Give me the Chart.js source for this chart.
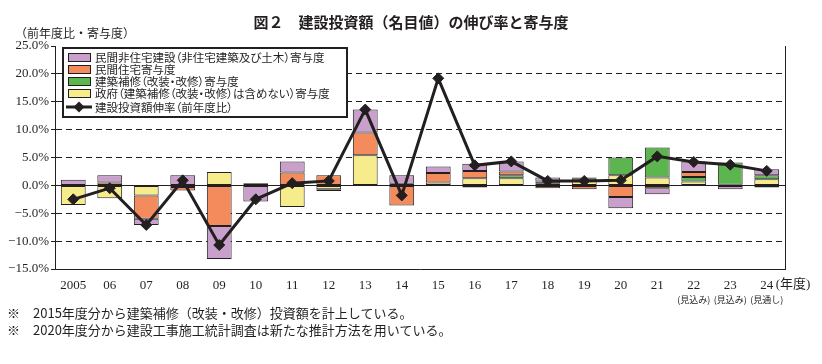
<!DOCTYPE html>
<html lang="ja">
<head>
<meta charset="utf-8">
<title>図２ 建設投資額（名目値）の伸び率と寄与度</title>
<script src="https://cdn.jsdelivr.net/npm/chart.js@4.4.1/dist/chart.umd.min.js"></script>
<style>
  html, body { margin: 0; padding: 0; background: #fff; }
  #wrap { position: relative; width: 822px; height: 364px; font-family: "Noto Sans CJK JP", sans-serif; color: #231f20; overflow: hidden; }
  #chart { position: absolute; left: 0; top: 0; }
  .title { position: absolute; left: 0; top: 12px; width: 822px; text-align: center; font-size: 15px; font-weight: bold; line-height: 20px; }
  .unit { position: absolute; left: 15px; top: 25px; font-size: 12px; line-height: 16px; }
  .legend { position: absolute; left: 62px; top: 47px; width: 282px; padding: 2px 0; border: 2px solid #231f20; background: #fff; }
  .legend .row { display: flex; align-items: center; height: 12px; font-size: 11.5px; white-space: nowrap; font-feature-settings: "palt"; }
  .legend .row.line { height: 15px; }
  .legend .sw { width: 21px; height: 7px; margin: 0 4px 0 4px; border: 1px solid #231f20; flex: none; }
  .legend svg { margin: 0 3px 0 2px; flex: none; }
  .notes { position: absolute; left: 7px; top: 305px; font-size: 13px; line-height: 16.5px; white-space: nowrap; }
</style>
</head>
<body>
<div id="wrap">
  <canvas id="chart" width="822" height="364"></canvas>
  <div class="title">図２　建設投資額（名目値）の伸び率と寄与度</div>
  <div class="unit">（前年度比・寄与度）</div>
  <div class="legend" id="legend"></div>
  <div class="notes" id="notes"></div>
</div>
<script>
// 年度
const years = ["2005", "06", "07", "08", "09", "10", "11", "12", "13", "14",
  "15", "16", "17", "18", "19", "20", "21", "22", "23", "24"];
const subLabels = ["", "", "", "", "", "", "", "", "", "",
  "", "", "", "", "", "", "", "(見込み)", "(見込み)", "(見通し)"];
const unitX = "(年度)";

// 寄与度（%ポイント）
const govContrib = [-3.5, -2.3, -1.8, -0.3, 2.4, 0, -3.9, -0.7, 5.4, 0.3,
  0.5, 1.3, 1.3, 0.3, 1.2, 1.8, 1.4, 0.7, 0.1, 1.1];
const repairContrib = [null, null, null, null, null, null, null, null, null, null,
  null, -0.4, 0.5, 0.4, 0, 3.2, 5.4, 0.8, 4.0, 0.7];
const residentialContrib = [0, 0.5, -4.2, -0.6, -7.3, 0.4, 2.3, 1.8, 4.1, -3.6,
  1.7, 1.3, 0.7, -0.5, -0.7, -2.1, -0.5, 0.9, 0, -0.4];
const nonResidentialContrib = [1.0, 1.3, -1.1, 1.8, -5.9, -2.9, 2.0, -0.3, 4.1, 1.5,
  1.2, 1.3, 1.8, 0.7, 0.2, -2.0, -1.1, 1.9, -0.7, 1.1];

// 建設投資額伸率（前年度比, %）
const growthRate = [-2.5, -0.5, -7.1, 0.9, -10.7, -2.5, 0.4, 0.8, 13.6, -1.8,
  19.2, 3.6, 4.3, 0.8, 0.8, 0.9, 5.2, 4.2, 3.7, 2.6];

const yTicks = { min: -15, max: 25, step: 5 };

const notes = [
  "※　2015年度分から建築補修（改装・改修）投資額を計上している。",
  "※　2020年度分から建設工事施工統計調査は新たな推計方法を用いている。",
];

const INK = "#231f20";
const COLORS = {
  nonres: "#c9a0cc",
  res: "#f48b5c",
  repair: "#5db54f",
  gov: "#f6ec8c",
};

const SERIF = "'Liberation Serif', 'Noto Sans CJK JP', serif";

function el(tag, className, text) {
  const node = document.createElement(tag);
  if (className) node.className = className;
  if (text != null) node.textContent = text;
  return node;
}

function barSet(label, data, color) {
  return {
    type: "bar",
    label,
    data,
    backgroundColor: color,
    borderColor: INK,
    borderWidth: 1,
    borderSkipped: false,
    barPercentage: 0.68,
    categoryPercentage: 1,
    stack: "contrib",
    order: 1,
  };
}

function renderLegend(container) {
  const items = [
    { label: "民間非住宅建設（非住宅建築及び土木）寄与度", color: COLORS.nonres },
    { label: "民間住宅寄与度", color: COLORS.res },
    { label: "建築補修（改装・改修）寄与度", color: COLORS.repair },
    { label: "政府（建築補修（改装・改修）は含めない）寄与度", color: COLORS.gov },
  ];
  items.forEach((it) => {
    const row = el("div", "row");
    const sw = el("span", "sw");
    sw.style.background = it.color;
    row.append(sw, el("span", null, it.label));
    container.append(row);
  });
  const row = el("div", "row line");
  row.innerHTML =
    '<svg width="26" height="12" viewBox="0 0 26 12"><line x1="0" y1="6" x2="26" y2="6" stroke="' + INK +
    '" stroke-width="3"/><path d="M13 0.5 L18.5 6 L13 11.5 L7.5 6 Z" fill="' + INK + '"/></svg>';
  row.append(el("span", null, "建設投資額伸率（前年度比）"));
  container.append(row);
}

const frame = {
  id: "frame",
  beforeDatasetsDraw(chart) {
    const { ctx, chartArea, scales: { y } } = chart;
    const y0 = Math.round(y.getPixelForValue(0)) + 0.5;
    ctx.save();
    ctx.strokeStyle = INK;
    ctx.lineWidth = 1;
    ctx.setLineDash([]);
    ctx.beginPath();
    ctx.moveTo(chartArea.left, y0);
    ctx.lineTo(chartArea.right, y0);
    ctx.moveTo(Math.round(chartArea.right) + 0.5, chartArea.top);
    ctx.lineTo(Math.round(chartArea.right) + 0.5, chartArea.bottom);
    ctx.stroke();
    ctx.restore();
  },
  afterDraw(chart) {
    const { ctx, chartArea, scales: { x } } = chart;
    ctx.save();
    ctx.fillStyle = INK;
    ctx.textBaseline = "middle";
    ctx.textAlign = "center";
    ctx.font = "9px 'Noto Sans CJK JP'";
    subLabels.forEach((s, i) => {
      if (s) ctx.fillText(s, x.getPixelForTick(i), chartArea.bottom + 31);
    });
    ctx.textAlign = "left";
    ctx.font = "13px " + SERIF;
    ctx.fillText(unitX, x.getPixelForTick(years.length - 1) + 9, chartArea.bottom + 16);
    ctx.restore();
  },
};

function initChart() {
  const canvas = document.getElementById("chart");
  new Chart(canvas, {
    type: "bar",
    data: {
      labels: years,
      datasets: [
        {
          type: "line",
          label: "建設投資額伸率（前年度比）",
          data: growthRate,
          borderColor: INK,
          borderWidth: 3,
          pointStyle: "rectRot",
          pointRadius: 5.5,
          pointBackgroundColor: INK,
          pointBorderColor: INK,
          pointBorderWidth: 1,
          tension: 0,
          stack: "line",
          order: 0,
        },
        barSet("政府（建築補修（改装・改修）は含めない）寄与度", govContrib, COLORS.gov),
        barSet("建築補修（改装・改修）寄与度", repairContrib, COLORS.repair),
        barSet("民間住宅寄与度", residentialContrib, COLORS.res),
        barSet("民間非住宅建設（非住宅建築及び土木）寄与度", nonResidentialContrib, COLORS.nonres),
      ],
    },
    options: {
      responsive: false,
      animation: false,
      events: [],
      layout: { padding: { top: 46, left: 0, right: 37, bottom: 60 } },
      plugins: {
        legend: { display: false },
        tooltip: { enabled: false },
        title: { display: false },
      },
      scales: {
        x: {
          stacked: true,
          offset: true,
          grid: { display: false, drawTicks: false },
          border: { display: true, color: INK, width: 1 },
          ticks: { color: INK, font: { family: SERIF, size: 13 }, padding: 9, autoSkip: false, maxRotation: 0 },
          afterFit: (s) => { s.height = 35; },
        },
        y: {
          stacked: true,
          min: yTicks.min,
          max: yTicks.max,
          ticks: {
            stepSize: yTicks.step,
            color: INK,
            padding: 2,
            font: { family: SERIF, size: 13 },
            callback: (v) => (v < 0 ? "−" : "") + Math.abs(v).toFixed(1) + "%",
          },
          grid: {
            color: (c) => (c.tick && (c.tick.value === yTicks.max || c.tick.value === yTicks.min) ? "rgba(0,0,0,0)" : INK),
            lineWidth: 1,
            tickLength: 4,
            tickColor: INK,
          },
          border: {
            display: true,
            color: INK,
            width: 1,
            dash: (c) => (c.type === "tick" ? [6, 4] : []),
          },
          afterFit: (s) => { s.width = 55; },
        },
      },
    },
    plugins: [frame],
  });
}

document.addEventListener("DOMContentLoaded", () => {
  renderLegend(document.getElementById("legend"));
  const box = document.getElementById("notes");
  notes.forEach((n) => box.append(el("div", null, n)));
  initChart();
});
</script>
</body>
</html>
